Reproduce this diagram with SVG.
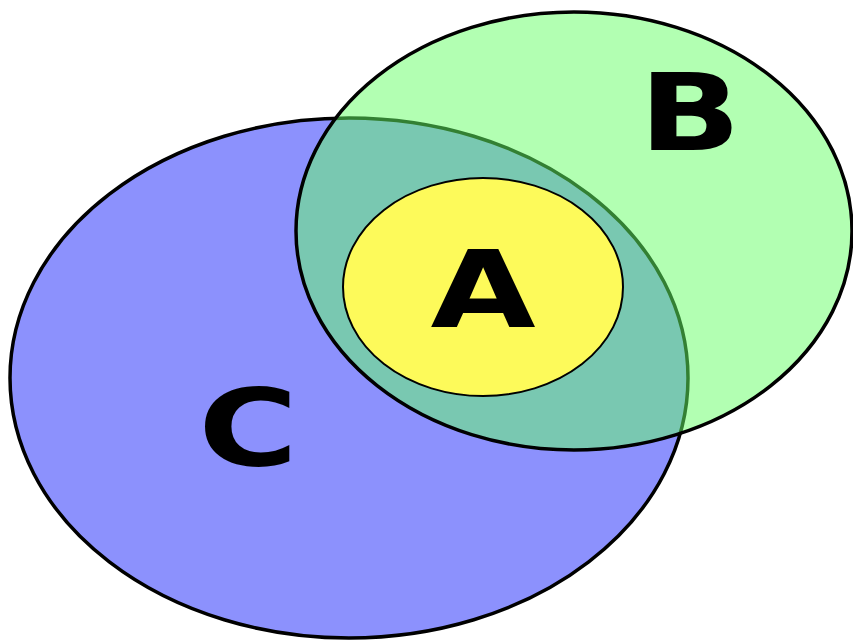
<svg xmlns="http://www.w3.org/2000/svg" width="853" height="640" viewBox="0 0 853 640">
<style>
.lbl{font-family:"DejaVu Sans",sans-serif;font-weight:bold;font-size:107px;fill:#000;}
</style>
<rect width="853" height="640" fill="#fff"/>
<g id="C">
<ellipse cx="349" cy="378" rx="339" ry="260" fill="#8c91fd" stroke="#000" stroke-width="3.5"/>
<text class="lbl" transform="translate(248,465) scale(1.27,1)" text-anchor="middle">C</text>
</g>
<g id="B">
<ellipse cx="574" cy="231" rx="278" ry="219" fill="#66ff66" fill-opacity="0.5" stroke="#000" stroke-width="3.5"/>
<text class="lbl" transform="translate(690,150) scale(1.25,1)" text-anchor="middle">B</text>
</g>
<g id="A">
<ellipse cx="483" cy="287" rx="140" ry="109" fill="#fdfa5a" stroke="#000" stroke-width="2"/>
<text class="lbl" transform="translate(483,327) scale(1.27,1)" text-anchor="middle">A</text>
</g>
<g id="connectors"/>
</svg>
